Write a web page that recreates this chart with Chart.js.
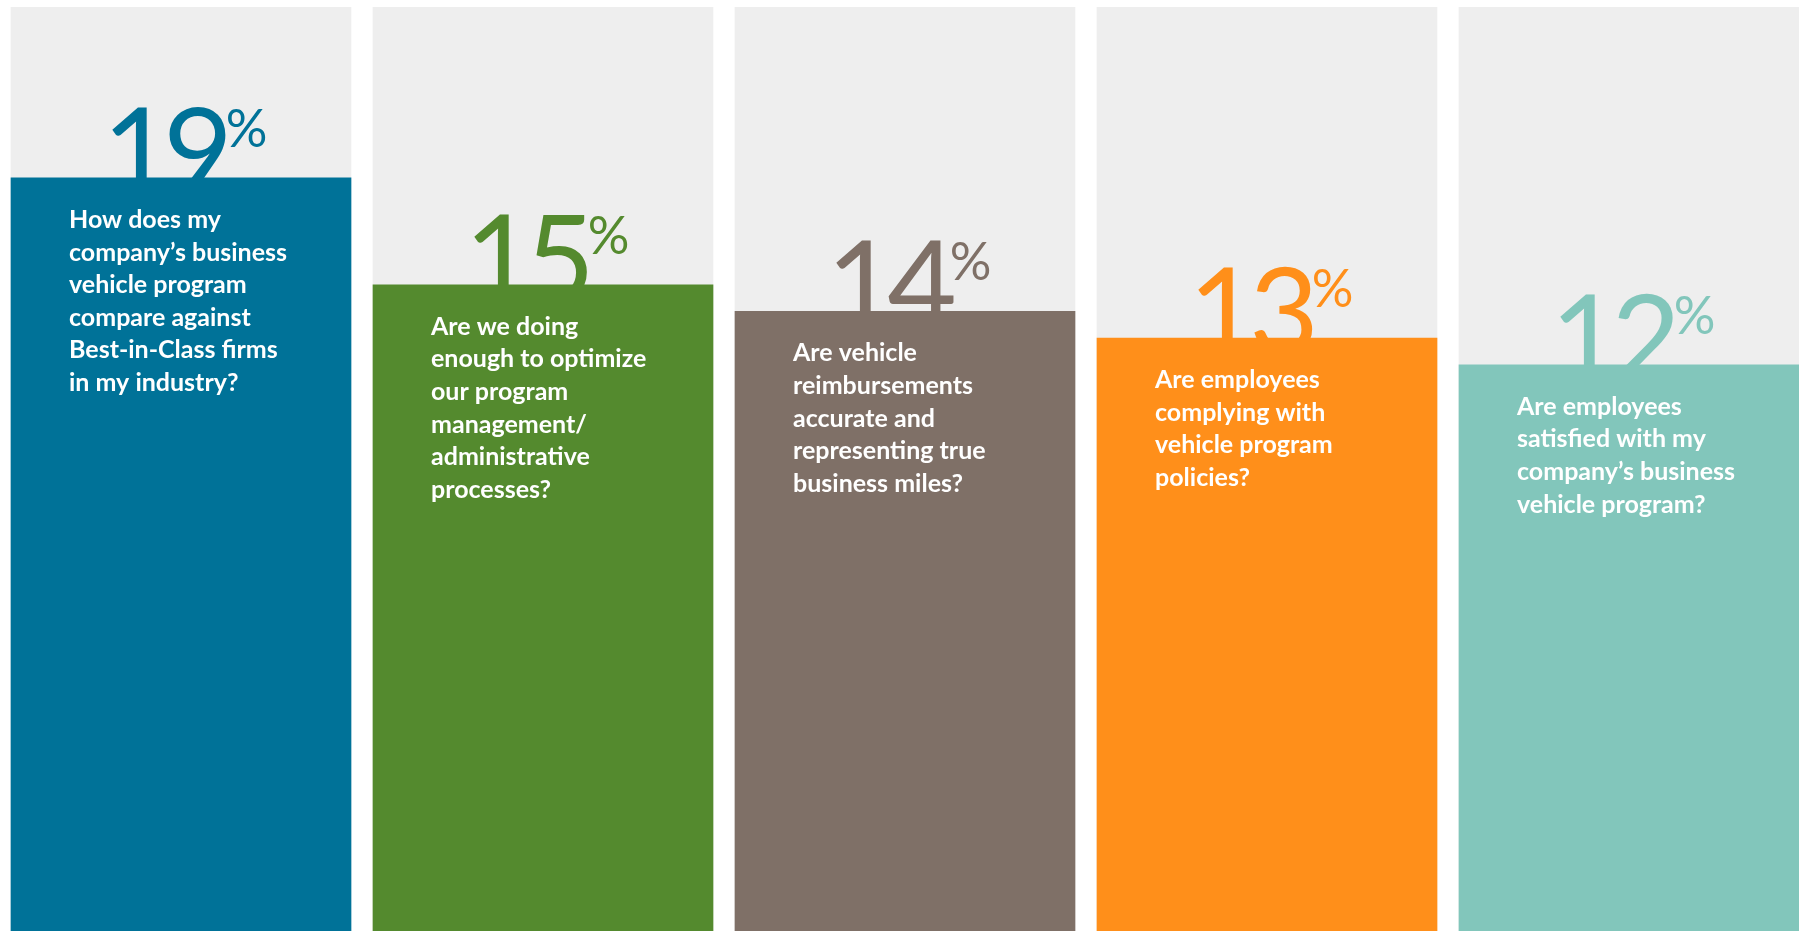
<!DOCTYPE html>
<html>
<head>
<meta charset="utf-8">
<script src="https://cdn.jsdelivr.net/npm/chart.js@4.4.0/dist/chart.umd.min.js"></script>
<style>
  html, body { margin: 0; padding: 0; background: #ffffff; overflow: hidden; }
  #wrap { width: 1799px; height: 931px; overflow: hidden; }
  canvas { display: block; }
</style>
</head>
<body>
<div id="wrap"><canvas id="grafico" width="1810" height="931"></canvas></div>
<script>
// datos
const categorias = ['Best-in-Class', 'Optimize', 'Reimbursements', 'Compliance', 'Satisfaction'];
const valores = [19, 15, 14, 13, 12];
const etiquetas = ['19', '15', '14', '13', '12'];
const preguntas = [
  ['How does my', 'company\u2019s business', 'vehicle program', 'compare against', 'Best-in-Class firms', 'in my industry?'],
  ['Are we doing', 'enough to optimize', 'our program', 'management/', 'administrative', 'processes?'],
  ['Are vehicle', 'reimbursements', 'accurate and', 'representing true', 'business miles?'],
  ['Are employees', 'complying with', 'vehicle program', 'policies?'],
  ['Are employees', 'satisfied with my', 'company\u2019s business', 'vehicle program?']
];
const colores = ['#007298', '#548a2e', '#7f7067', '#ff8f1a', '#82c6bb'];

const ejeMin = -9.2;
const ejeMax = 25.4;

const textos = {
  id: 'textos',
  beforeDatasetDraw(chart, args) {
    if (args.index !== 0) return;
    // numeros grandes, debajo de las barras de color
    const ctx = chart.ctx;
    const meta = chart.getDatasetMeta(0);
    ctx.save();
    ctx.textBaseline = 'alphabetic';
    ctx.textAlign = 'left';
    meta.data.forEach((bar, i) => {
      ctx.letterSpacing = '-9px';
      ctx.font = '400 120px Lato';
      const dw = ctx.measureText(etiquetas[i]).width;
      ctx.letterSpacing = '0px';
      ctx.font = '400 52px Lato';
      const pw = ctx.measureText('%').width;
      const total = dw + pw;
      const x0 = bar.x + 3 - total / 2;
      ctx.fillStyle = colores[i];
      ctx.letterSpacing = '-9px';
      ctx.font = '400 120px Lato';
      ctx.fillText(etiquetas[i], x0, bar.y + 16);
      ctx.letterSpacing = '0px';
      ctx.font = '400 52px Lato';
      ctx.fillText('%', x0 + dw + 2, bar.y - 31);
    });
    ctx.restore();
  },
  afterDatasetsDraw(chart) {
    const ctx = chart.ctx;
    const meta = chart.getDatasetMeta(0);
    ctx.save();
    ctx.fillStyle = '#ffffff';
    ctx.font = 'bold 25px Lato';
    ctx.textAlign = 'left';
    ctx.textBaseline = 'alphabetic';
    meta.data.forEach((bar, i) => {
      preguntas[i].forEach((linea, j) => {
        ctx.fillText(linea, bar.x - 112, bar.y + 50 + j * 32.6);
      });
    });
    ctx.restore();
  }
};

new Chart(document.getElementById('grafico'), {
  type: 'bar',
  data: {
    labels: categorias,
    datasets: [
      {
        data: valores,
        backgroundColor: colores,
        barThickness: 340,
        grouped: false,
        base: ejeMin,
        borderWidth: 0
      },
      {
        data: valores.map(() => ejeMax),
        backgroundColor: '#eeeeee',
        barThickness: 340,
        grouped: false,
        base: ejeMin,
        borderWidth: 0
      }
    ]
  },
  options: {
    responsive: false,
    animation: false,
    devicePixelRatio: 1,
    layout: { padding: { top: 7, left: 0, right: 0, bottom: 0 } },
    scales: {
      x: { display: false },
      y: { display: false, min: ejeMin, max: ejeMax }
    },
    plugins: {
      legend: { display: false },
      tooltip: { enabled: false }
    }
  },
  plugins: [textos]
});
</script>
</body>
</html>
